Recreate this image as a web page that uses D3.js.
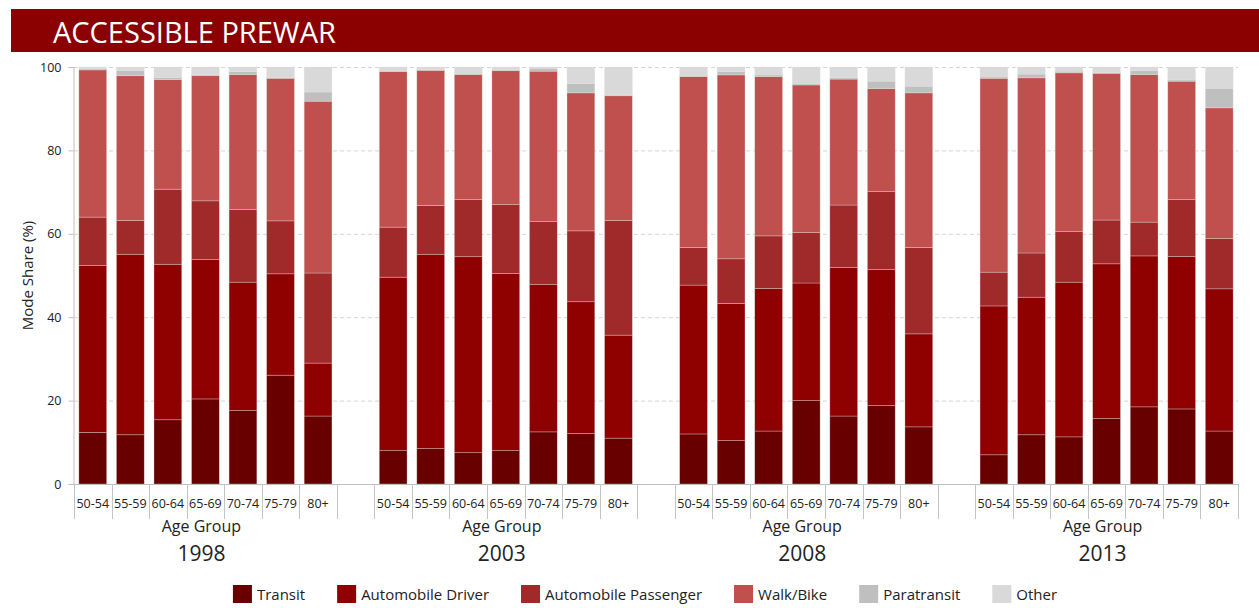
<!DOCTYPE html>
<html>
<head>
<meta charset="utf-8">
<script src="https://cdn.jsdelivr.net/npm/d3@7"></script>
<style>
  html, body { margin: 0; padding: 0; background: #fff; }
  svg { display: block; font-family: "Open Sans", "Noto Sans", sans-serif; }
</style>
</head>
<body>
<svg id="chart" width="1259" height="608"></svg>
<script>
// Survey years and age groups (x categories)
const years = ["1998", "2003", "2008", "2013"];
const ageGroups = ["50-54", "55-59", "60-64", "65-69", "70-74", "75-79", "80+"];
const modes = ["Transit", "Automobile Driver", "Automobile Passenger", "Walk/Bike", "Paratransit", "Other"];
const yTicks = [0, 20, 40, 60, 80, 100];

// Mode share (%) per bar, ordered by year then age group
const transit   = [12.4, 11.8, 15.4, 20.4, 17.6, 26.1, 16.3,  8.0,  8.5,  7.5,  8.0, 12.5, 12.1, 11.0, 12.0, 10.4, 12.7, 20.0, 16.3, 18.8, 13.7,  7.0, 11.8, 11.3, 15.7, 18.5, 18.0, 12.7];
const driver    = [40.0, 43.3, 37.3, 33.4, 30.8, 24.3, 12.7, 41.6, 46.6, 47.0, 42.5, 35.4, 31.6, 24.7, 35.7, 32.9, 34.2, 28.2, 35.6, 32.6, 22.3, 35.7, 33.0, 37.1, 37.1, 36.2, 36.6, 34.1];
const passenger = [11.6,  8.1, 18.0, 14.1, 17.4, 12.7, 21.6, 12.0, 11.7, 13.7, 16.5, 15.0, 17.0, 27.5,  9.0, 10.7, 12.6, 12.1, 15.0, 18.7, 20.7,  8.1, 10.6, 12.1, 10.5,  8.1, 13.6, 12.1];
const walkBike  = [35.3, 34.7, 26.3, 30.0, 32.4, 34.2, 41.2, 37.3, 32.4, 30.0, 32.1, 36.1, 33.1, 29.9, 41.0, 44.1, 38.2, 35.4, 30.2, 24.7, 37.1, 46.5, 42.0, 38.1, 35.2, 35.4, 28.4, 31.3];
const paratransit = [0.3, 1.2, 0.5, 0.3, 0.7, 0.2, 2.2,  0.3,  0.2,  0.3,  0.2,  0.7,  2.2,  0.2,  0.3,  0.8,  0.4,  0.4,  0.3,  1.8,  1.6,  0.3,  0.9,  0.4,  0.2,  0.9,  0.3,  4.7];
const other     = [ 0.4,  0.9,  2.5,  1.8,  1.1,  2.5,  6.0,  0.8,  0.6,  1.5,  0.7,  0.3,  4.0,  6.7,  2.0,  1.1,  1.9,  3.9,  2.6,  3.4,  4.6,  2.4,  1.7,  1.0,  1.3,  0.9,  3.1,  5.1];

const seriesValues = [transit, driver, passenger, walkBike, paratransit, other];
const colors = ["#680000", "#8f0000", "#a0292a", "#c0504d", "#bfbfbf", "#d9d9d9"];

// Table of rows for the stack layout
const rows = [];
years.forEach((yr, yi) => {
  ageGroups.forEach((ag, ai) => {
    const idx = yi * ageGroups.length + ai;
    const row = { key: yr + "|" + ag, year: yr, age: ag };
    modes.forEach((m, mi) => { row[m] = seriesValues[mi][idx]; });
    rows.push(row);
  });
});

// Slots: seven age groups per year, one empty slot between years
const slots = [];
years.forEach((yr, yi) => {
  ageGroups.forEach(ag => slots.push(yr + "|" + ag));
  if (yi < years.length - 1) slots.push("gap" + yi);
});

const svg = d3.select("#chart");
const plotLeft = 74, plotRight = 1238, plotTop = 67, plotBottom = 484;

const x = d3.scaleBand().domain(slots).range([plotLeft, plotRight]).padding(0);
const y = d3.scaleLinear().domain([0, 100]).range([plotBottom, plotTop]);
const bw = x.bandwidth();
const barW = bw * 0.74;

// Title banner
svg.append("rect").attr("x", 11).attr("y", 9).attr("width", 1248).attr("height", 43).attr("fill", "#8b0000");
svg.append("text").attr("x", 53).attr("y", 43).attr("fill", "#fff")
  .attr("font-size", 29).text("ACCESSIBLE PREWAR");

// Horizontal gridlines
svg.append("g").selectAll("line").data(yTicks.filter(d => d > 0)).join("line")
  .attr("x1", plotLeft).attr("x2", plotRight)
  .attr("y1", d => y(d) + 0.5).attr("y2", d => y(d) + 0.5)
  .attr("stroke", "#d4d4d4").attr("stroke-dasharray", "4,3");

// Stacked bars
const stack = d3.stack().keys(modes);
const stacked = stack(rows);
svg.append("g").selectAll("g").data(stacked).join("g")
  .attr("fill", (d, i) => colors[i])
  .selectAll("rect").data(d => d).join("rect")
  .attr("x", d => x(d.data.key) + (bw - barW) / 2)
  .attr("width", barW)
  .attr("y", d => y(d[1]))
  .attr("height", d => Math.max(0, y(d[0]) - y(d[1])))
  .attr("stroke", "rgba(225,225,225,0.55)")
  .attr("stroke-width", 0.6);

// Y axis
const yAxis = d3.axisLeft(y).tickValues(yTicks).tickSize(5).tickPadding(7);
const yg = svg.append("g").attr("transform", `translate(${plotLeft - 0.5},0)`).call(yAxis);
yg.select(".domain").attr("stroke", "#bfbfbf");
yg.selectAll(".tick line").attr("stroke", "#bfbfbf");
yg.selectAll(".tick text").attr("font-size", 12.5).attr("fill", "#222")
  .attr("font-family", "'Open Sans', sans-serif");

svg.append("text")
  .attr("transform", `translate(33,${(plotTop + plotBottom) / 2}) rotate(-90)`)
  .attr("text-anchor", "middle").attr("font-size", 15).attr("fill", "#222")
  .text("Mode Share (%)");

// X baseline
svg.append("line").attr("x1", plotLeft).attr("x2", plotRight)
  .attr("y1", plotBottom + 0.5).attr("y2", plotBottom + 0.5).attr("stroke", "#bfbfbf");

// Category separators below the axis
const bounds = slots.map(s => x(s)).concat([x(slots[slots.length - 1]) + bw]);
svg.append("g").selectAll("line").data(bounds).join("line")
  .attr("x1", d => Math.round(d) + 0.5).attr("x2", d => Math.round(d) + 0.5)
  .attr("y1", plotBottom).attr("y2", 519)
  .attr("stroke", "#c4c4c4");

// Age group labels
svg.append("g").selectAll("text").data(rows).join("text")
  .attr("x", d => x(d.key) + bw / 2).attr("y", 508)
  .attr("text-anchor", "middle").attr("font-size", 12.5).attr("fill", "#222")
  .text(d => d.age);

// Per-year axis titles
years.forEach(yr => {
  const start = x(yr + "|" + ageGroups[0]);
  const end = x(yr + "|" + ageGroups[ageGroups.length - 1]) + bw;
  const cx = (start + end) / 2 - 4;
  svg.append("text").attr("x", cx).attr("y", 532).attr("text-anchor", "middle")
    .attr("font-size", 16).attr("fill", "#222").text("Age Group");
  svg.append("text").attr("x", cx).attr("y", 561).attr("text-anchor", "middle")
    .attr("font-size", 21).attr("fill", "#222").text(yr);
});

// Legend
const legend = svg.append("g");
let lx = 0;
const items = [];
modes.forEach((m, i) => {
  const g = legend.append("g");
  g.append("rect").attr("x", 0).attr("y", -9).attr("width", 19).attr("height", 18)
    .attr("fill", colors[i]);
  const t = g.append("text").attr("x", 24).attr("y", 5.5).attr("font-size", 15)
    .attr("fill", "#222").text(m);
  const w = 24 + t.node().getComputedTextLength();
  items.push({ g, w });
});
const gap = 32;
const total = d3.sum(items, d => d.w) + gap * (items.length - 1);
lx = 645 - total / 2;
items.forEach(it => {
  it.g.attr("transform", `translate(${lx},594)`);
  lx += it.w + gap;
});
</script>
</body>
</html>
